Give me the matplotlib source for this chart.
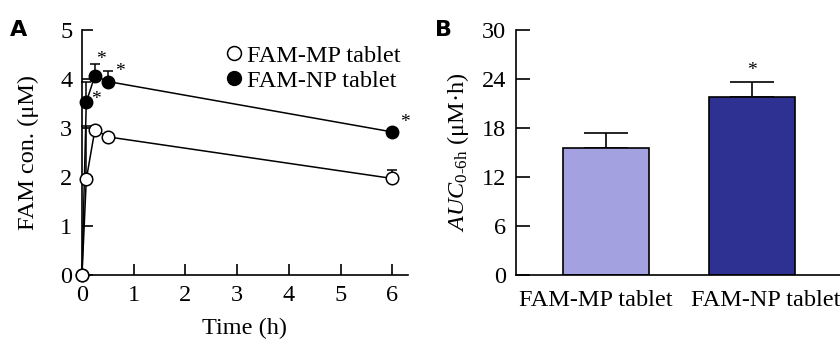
import matplotlib
matplotlib.use("Agg")
import matplotlib.pyplot as plt
from matplotlib.lines import Line2D
import numpy as np

# ---- data ---------------------------------------------------------------
time_h = [0, 0.083, 0.25, 0.5, 6]
mp_conc = [0, 1.95, 2.97, 2.82, 1.97]
mp_sd = [0, 1.10, 0.06, 0.05, 0.17]
np_conc = [0, 3.53, 4.07, 3.95, 2.92]
np_sd = [0, 0.40, 0.23, 0.22, 0.06]
np_star = [False, True, True, True, True]

groups = ["FAM-MP tablet", "FAM-NP tablet"]
auc = [15.5, 21.8]
auc_sd = [1.9, 1.8]
auc_star = [False, True]
bar_colors = ["#A3A1DF", "#2E3192"]

# star placement relative to each point (dt, dy), tuned by eye
star_off = [(0, 0), (0.19, 0.05), (0.12, 0.33), (0.24, 0.21), (0.24, 0.19)]

FS = 17.5
plt.rcParams.update({
    "font.family": "serif",
    "font.serif": ["Liberation Serif", "DejaVu Serif"],
    "mathtext.fontset": "custom",
    "mathtext.rm": "Liberation Serif",
    "mathtext.it": "Liberation Serif:italic",
    "axes.linewidth": 1.2,
})

fig = plt.figure(figsize=(8.4, 3.42), dpi=100)
axA = fig.add_axes([0.0976, 0.196, 0.388, 0.716])
axB = fig.add_axes([0.614, 0.196, 0.386, 0.716])

# ---- panel A ------------------------------------------------------------
ms = 9
axA.errorbar(time_h, np_conc, yerr=[np.zeros(len(np_sd)), np_sd], color="black",
             lw=1.1, capsize=3.5, capthick=1.1, elinewidth=1.1, marker="o", ms=ms,
             mfc="black", mec="black", clip_on=False, zorder=3)
axA.errorbar(time_h, mp_conc, yerr=[np.zeros(len(mp_sd)), mp_sd], color="black",
             lw=1.1, capsize=3.5, capthick=1.1, elinewidth=1.1, marker="o", ms=ms,
             mfc="white", mec="black", mew=1.1, clip_on=False, zorder=4)
for t, v, star, (dt, dy) in zip(time_h, np_conc, np_star, star_off):
    if star:
        axA.text(t + dt, v + dy, "*", fontsize=14, ha="center", va="center")

axA.set_xlim(0, 6.3)
axA.set_ylim(0, 5)
axA.set_xticks(range(0, 7))
axA.set_yticks(range(0, 6))
axA.spines["top"].set_visible(False)
axA.spines["right"].set_visible(False)
axA.tick_params(direction="in", length=8, width=1.2, labelsize=FS, pad=7)
axA.set_xlabel("Time (h)", fontsize=FS, labelpad=9)
axA.set_ylabel("FAM con. (μM)", fontsize=FS, labelpad=15)
handles = [Line2D([], [], ls="", marker="o", ms=10, mfc="white", mec="black", mew=1.1),
           Line2D([], [], ls="", marker="o", ms=10, mfc="black", mec="black")]
axA.legend(handles, groups, loc="upper right", bbox_to_anchor=(1.045, 1.03),
           frameon=False, fontsize=FS, handletextpad=0.05, labelspacing=0.12,
           handlelength=1.0)

# ---- panel B ------------------------------------------------------------
xpos = np.arange(len(groups))
axB.bar(xpos, auc, width=0.59, color=bar_colors, edgecolor="black", lw=1.2, zorder=2)
axB.errorbar(xpos, auc, yerr=[np.zeros(len(auc_sd)), auc_sd], fmt="none",
             ecolor="black", elinewidth=1.2, capsize=16, capthick=1.2, zorder=1)
for x, v, s, star in zip(xpos, auc, auc_sd, auc_star):
    if star:
        axB.text(x, v + s + 1.4, "*", fontsize=14, ha="center", va="center")

axB.set_xlim(-0.62, 1.6)
axB.set_ylim(0, 30)
axB.set_yticks(range(0, 31, 6))
axB.set_xticks([])
# category labels sit slightly spread apart from the bar centres, as in the original
for x, lab, dx in zip(xpos, groups, [-0.07, 0.09]):
    axB.text(x + dx, -0.105, lab, transform=axB.get_xaxis_transform(),
             fontsize=FS, ha="center", va="center")
axB.spines["top"].set_visible(False)
axB.spines["right"].set_visible(False)
axB.tick_params(axis="y", direction="in", length=10, width=1.2, labelsize=FS, pad=7)
axB.set_ylabel(r"$\mathit{AUC}_{\mathrm{0\text{-}6h}}$ (μM·h)", fontsize=FS, labelpad=8)

fig.text(0.012, 0.895, "A", fontsize=16, fontweight="bold", family="DejaVu Sans")
fig.text(0.518, 0.895, "B", fontsize=16, fontweight="bold", family="DejaVu Sans")

fig.savefig("out.png", dpi=100)
